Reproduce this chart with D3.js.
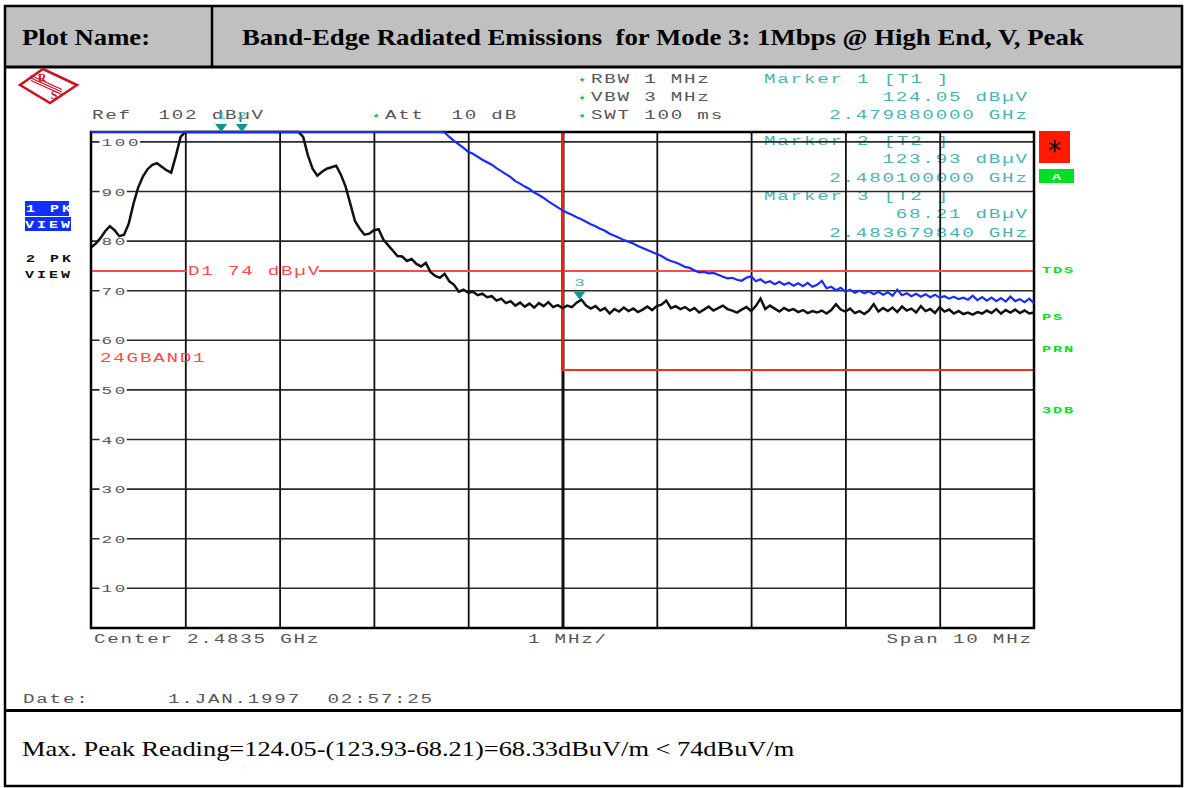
<!DOCTYPE html>
<html><head><meta charset="utf-8">
<script src="https://cdn.jsdelivr.net/npm/d3@7"></script>
<style>body{margin:0;background:#fff}svg{display:block}text{white-space:pre}</style>
</head><body>
<svg id="c" width="1184" height="788"></svg>
<script>
// ---------- DATA ----------
const freqStartGHz = 2.4785;
const freqStopGHz = 2.4885;
const freqStepGHz = 0.00005;
const xGridGHz = [2.4795,2.4805,2.4815,2.4825,2.4835,2.4845,2.4855,2.4865,2.4875];
const yTickValues = [100,90,80,70,60,50,40,30,20,10];
const yTickLabels = ["100","90","80","70","60","50","40","30","20","10"];
const refLevel = 102, bottomLevel = 2;
const displayLineDb = 74;
const limitLineDb = 54, limitStartGHz = 2.4835;

// Trace 1 (blue, 1 PK max hold)
const trace1 = [
106.0,106.4,106.9,107.3,107.8,108.4,109.0,109.7,110.4,111.2,
112.0,112.9,113.8,114.7,115.6,116.5,117.4,118.3,119.2,120.0,
120.8,121.5,122.1,122.7,123.2,123.6,123.8,124.0,124.05,124.0,
123.9,123.7,123.4,123.0,122.5,121.9,121.2,120.5,119.7,118.9,
118.0,117.2,116.4,115.6,114.8,114.0,113.3,112.6,111.9,111.3,
110.7,110.1,109.5,109.0,108.5,108.0,107.5,107.1,106.7,106.3,
105.9,105.5,105.2,104.9,104.6,104.3,104.0,103.7,103.4,103.2,
103.0,102.8,102.6,102.4,102.2,101.9,101.0,100.2,99.5,98.8,
98.0,97.6,97.0,96.4,95.9,95.4,94.7,94.1,93.5,92.9,
92.1,91.6,91.0,90.5,89.8,89.3,88.7,88.0,87.4,86.8,
86.2,85.7,85.3,84.8,84.4,83.9,83.4,83.0,82.5,82.1,
81.5,81.1,80.7,80.2,79.9,79.5,79.0,78.6,78.2,77.8,
77.4,77.0,76.4,76.0,75.7,75.3,74.8,74.6,74.1,73.7,
73.8,73.5,73.6,73.2,72.8,72.5,72.6,72.2,72.0,72.6,
72.9,71.9,72.3,71.6,71.9,71.3,71.8,71.2,71.6,71.0,
71.5,70.9,71.6,70.8,71.2,72.0,70.5,70.8,70.1,70.6,
69.8,70.2,69.6,70.0,69.5,69.9,69.3,69.8,69.2,69.7,
69.0,70.2,69.1,69.5,68.9,69.4,68.8,69.3,68.7,69.2,
68.6,68.9,68.4,68.8,68.3,68.6,68.2,69.0,68.1,68.7,
68.0,68.6,67.9,68.5,67.8,68.8,67.9,68.3,67.7,68.4,
67.5];

// Trace 2 (black, 2 PK view)
const trace2 = [
78.7,79.5,80.6,82.0,83.0,82.2,81.0,81.3,83.5,87.5,
90.8,93.0,94.5,95.4,95.7,95.0,94.3,93.8,97.2,101.0,
104.5,108,112,116,119,121,122.5,123.5,124.0,123.9,
124.0,123.9,123.93,123.5,122.8,121.5,119.5,117,114,111,
108,105.5,103.5,102.8,102.2,101.0,97.3,94.6,93.2,94.0,
94.6,94.9,95.2,93.4,91.0,87.5,84.0,82.5,81.3,81.5,
82.2,82.4,80.3,79.2,78.1,77.0,76.9,76.0,76.4,75.4,
74.9,75.6,73.8,73.0,72.6,73.4,71.9,71.2,69.8,70.2,
69.6,69.8,69.1,69.4,68.7,68.9,68.0,68.4,67.5,67.9,
67.0,67.6,66.8,67.4,66.6,67.5,66.9,67.7,66.7,67.1,
66.5,67.0,66.7,67.6,68.21,67.0,66.4,66.9,66.0,66.5,
65.4,66.3,65.8,66.6,65.9,66.4,65.7,66.2,66.8,66.1,
66.9,67.2,68.0,66.5,66.9,66.3,66.7,66.0,66.5,65.6,
66.2,66.8,66.0,66.5,67.0,66.3,66.0,65.6,66.2,66.7,
65.9,66.9,68.4,66.3,67.0,66.4,65.8,66.5,66.0,66.3,
65.7,66.1,65.5,65.9,65.6,66.0,65.4,66.1,67.3,66.2,
65.8,66.4,65.5,65.9,65.3,66.0,67.3,65.8,66.5,65.9,
66.6,65.7,66.8,66.0,66.4,65.6,66.9,65.9,66.3,65.5,
66.7,65.8,66.2,65.4,65.9,65.3,65.6,65.2,65.7,65.4,
66.0,65.5,66.3,65.4,66.1,65.6,66.2,65.5,66.0,65.4,
65.6];

const markerIds = ["1","2","3"];
const markerTraces = ["T1","T2","T2"];
const markerFreqGHz = [2.47988, 2.4801, 2.48367984];
const markerLevels = [124.05, 123.93, 68.21];
const markerLevelText = ["124.05 dBµV","123.93 dBµV","68.21 dBµV"];
const markerFreqText = ["2.479880000 GHz","2.480100000 GHz","2.483679840 GHz"];

const settingsLines = ["RBW 1 MHz","VBW 3 MHz","SWT 100 ms"];
const sideLabels = ["TDS","PS","PRN","3DB"];

// ---------- DRAW ----------
const svg = d3.select("#c");

const x = d3.scaleLinear().domain([freqStartGHz, freqStopGHz]).range([91, 1034]);
const y = d3.scaleLinear().domain([bottomLevel, refLevel]).range([628, 132]).clamp(true);

function mono(g, px, py, str, opt = {}) {
  const size = opt.size || 12, pitch = opt.pitch || 13.3, sx = opt.sx || 1.6;
  const adv = size * 0.6 * sx;
  const ls = pitch / sx - size * 0.6;
  let x0 = px;
  if (opt.anchor === "end") x0 = px - ((str.length - 1) * pitch + adv);
  if (opt.anchor === "middle") x0 = px - ((str.length - 1) * pitch + adv) / 2;
  return g.append("text")
    .attr("transform", `translate(${x0},${py}) scale(${sx},1)`)
    .attr("xml:space", "preserve")
    .attr("font-family", "'Liberation Mono','Courier New',monospace")
    .attr("font-size", size)
    .attr("letter-spacing", ls)
    .attr("font-weight", opt.weight || "normal")
    .attr("fill", opt.fill || "#555")
    .text(str);
}

// Table structure
svg.append("rect").attr("x", 5).attr("y", 6).attr("width", 1177).attr("height", 61).attr("fill", "#c0c0c0");
svg.append("rect").attr("x", 5).attr("y", 6).attr("width", 1177).attr("height", 780)
  .attr("fill", "none").attr("stroke", "#000").attr("stroke-width", 2.5);
svg.append("line").attr("x1", 5).attr("x2", 1182).attr("y1", 67).attr("y2", 67).attr("stroke", "#000").attr("stroke-width", 3);
svg.append("line").attr("x1", 212).attr("x2", 212).attr("y1", 6).attr("y2", 67).attr("stroke", "#000").attr("stroke-width", 2.5);
svg.append("line").attr("x1", 5).attr("x2", 1182).attr("y1", 710.5).attr("y2", 710.5).attr("stroke", "#000").attr("stroke-width", 3);

const serif = "'Liberation Serif','Times New Roman',serif";
svg.append("text").attr("transform", "translate(22,45) scale(1.16,1)").attr("font-family", serif)
  .attr("font-weight", "bold").attr("font-size", 23).text("Plot Name:");
svg.append("text").attr("transform", "translate(242,45) scale(1.165,1)").attr("font-family", serif)
  .attr("font-weight", "bold").attr("font-size", 23).attr("xml:space", "preserve")
  .text("Band-Edge Radiated Emissions  for Mode 3: 1Mbps @ High End, V, Peak");
svg.append("text").attr("transform", "translate(22,756) scale(1.2,1)").attr("font-family", serif)
  .attr("font-size", 22).text("Max. Peak Reading=124.05-(123.93-68.21)=68.33dBuV/m < 74dBuV/m");

// R&S logo
const red = "#d01020";
const logo = svg.append("g");
logo.append("path").attr("d", "M20,85 L43,69 L77,85 L50,103 Z").attr("fill", "#fff").attr("stroke", red).attr("stroke-width", 2.5);
[-2.5, 0, 2.5].forEach(d => logo.append("line").attr("x1", 31).attr("y1", 78 + d).attr("x2", 62).attr("y2", 92 + d)
  .attr("stroke", red).attr("stroke-width", 1.3));
logo.append("text").attr("x", 42).attr("y", 82).attr("font-family", serif).attr("font-weight", "bold")
  .attr("font-size", 12).attr("fill", red).attr("text-anchor", "middle").text("R");
logo.append("text").attr("x", 54).attr("y", 99).attr("font-family", serif).attr("font-weight", "bold")
  .attr("font-size", 12).attr("fill", red).attr("text-anchor", "middle").text("S");

// Top instrument texts
const txt = svg.append("g");
function star(px, py) {
  txt.append("text").attr("x", px).attr("y", py).attr("font-family", "'DejaVu Sans',sans-serif")
    .attr("font-size", 7).attr("fill", "#00c020").text("★");
}
const rowY = [82.5, 100.5, 118.5];
mono(txt, 92, rowY[2], "Ref  102 dBµV");
star(373, rowY[2] - 1); mono(txt, 385, rowY[2], "Att  10 dB");
settingsLines.forEach((s, i) => { star(579, rowY[i] - 1); mono(txt, 591, rowY[i], s); });

const teal = "#48b4b4";
const mkY = [[82.5, 100.5, 118.5], [145, 163.3, 181.7], [200, 218, 236.5]];
markerIds.forEach((m, i) => {
  mono(txt, 764, mkY[i][0], `Marker ${m} [${markerTraces[i]} ]`, { fill: teal });
  mono(txt, 1027, mkY[i][1], markerLevelText[i], { fill: teal, anchor: "end" });
  mono(txt, 1027, mkY[i][2], markerFreqText[i], { fill: teal, anchor: "end" });
});

// Plot grid
const plot = svg.append("g");
yTickValues.forEach(v => {
  plot.append("line").attr("x1", 91).attr("x2", 1034).attr("y1", y(v)).attr("y2", y(v))
    .attr("stroke", "#2a2a2a").attr("stroke-width", 1.6);
});
const gx = plot.append("g").attr("transform", "translate(0,628)")
  .call(d3.axisBottom(x).tickValues(xGridGHz).tickSize(-496).tickFormat(""));
gx.select(".domain").remove();
gx.selectAll(".tick line").attr("stroke", "#111").attr("stroke-width", d => d === 2.4835 ? 3 : 1.8);

// y tick labels with white backgrounds
yTickValues.forEach((v, i) => {
  const lab = yTickLabels[i];
  const w = (lab.length - 1) * 13.3 + 10.5;
  plot.append("rect").attr("x", 99.5).attr("y", y(v) - 6).attr("width", w + 3.5).attr("height", 12).attr("fill", "#fff");
  mono(plot, 101.5, y(v) + 4, lab, { size: 11, fill: "#555" });
});

// display line D1
const dY = y(displayLineDb);
plot.append("line").attr("x1", 91).attr("x2", 186).attr("y1", dY).attr("y2", dY).attr("stroke", "#ff4a4a").attr("stroke-width", 2);
plot.append("line").attr("x1", 319).attr("x2", 1034).attr("y1", dY).attr("y2", dY).attr("stroke", "#ff4a4a").attr("stroke-width", 2);
mono(plot, 188, dY + 4, "D1 74 dBµV", { fill: "#ff4a4a" });

// limit line 24GBAND1
const lx = x(limitStartGHz), lY = y(limitLineDb);
plot.append("path").attr("d", `M${lx},132 L${lx},${lY} L1034,${lY}`).attr("fill", "none")
  .attr("stroke", "#ff2a1a").attr("stroke-width", 2);
plot.append("line").attr("x1", lx).attr("x2", lx).attr("y1", 132).attr("y2", lY).attr("stroke", "#ff1a00").attr("stroke-width", 3);
mono(plot, 100, 362, "24GBAND1", { fill: "#ff4a4a" });

// traces
const freqs = trace2.map((_, i) => freqStartGHz + i * freqStepGHz);
const line = d3.line().x((d, i) => x(freqs[i])).y(d => y(d));
plot.append("path").datum(trace2).attr("d", line).attr("fill", "none").attr("stroke", "#111").attr("stroke-width", 2.5);

// frame
plot.append("rect").attr("x", 91).attr("y", 132).attr("width", 943).attr("height", 496)
  .attr("fill", "none").attr("stroke", "#000").attr("stroke-width", 2.5);
plot.append("path").datum(trace1).attr("d", line).attr("fill", "none").attr("stroke", "#1a2cff").attr("stroke-width", 2.2);

// markers
const triColor = "#129494";
markerIds.forEach((m, i) => {
  const mx = x(markerFreqGHz[i]);
  const my = Math.max(y(markerLevels[i]), 132);
  plot.append("path").attr("d", `M${mx - 6},${my - 8} L${mx + 6},${my - 8} L${mx},${my} Z`).attr("fill", triColor);
  if (i === 2) mono(plot, mx, my - 14, m, { fill: teal, anchor: "middle", size: 11 });
  else mono(plot, mx, 118.5, m, { fill: teal, anchor: "middle", size: 11 });
});

// left side view labels
svg.append("rect").attr("x", 25).attr("y", 201).attr("width", 44).attr("height", 15).attr("fill", "#1030ff");
svg.append("rect").attr("x", 25).attr("y", 217).attr("width", 46).attr("height", 14).attr("fill", "#1030ff");
mono(svg, 26, 212, "1 PK", { size: 10, pitch: 12, sx: 1.5, fill: "#fff", weight: "bold" });
mono(svg, 25, 228, "VIEW", { size: 10, pitch: 12, sx: 1.5, fill: "#fff", weight: "bold" });
mono(svg, 26, 262, "2 PK", { size: 10, pitch: 12, sx: 1.5, fill: "#111", weight: "bold" });
mono(svg, 25, 278, "VIEW", { size: 10, pitch: 12, sx: 1.5, fill: "#111", weight: "bold" });

// right side
svg.append("rect").attr("x", 1039).attr("y", 131).attr("width", 31).attr("height", 32).attr("fill", "#ff1a00");
svg.append("text").attr("x", 1054.5).attr("y", 160).attr("text-anchor", "middle").attr("font-family", "'DejaVu Sans',sans-serif")
  .attr("font-size", 26).attr("fill", "#000").text("*");
svg.append("rect").attr("x", 1039).attr("y", 169).attr("width", 35).attr("height", 14).attr("fill", "#00e020");
mono(svg, 1056.5, 180, "A", { size: 9, pitch: 11, sx: 1.7, fill: "#fff", weight: "bold", anchor: "middle" });
const sideY = [272.5, 319.5, 352, 413];
sideLabels.forEach((s, i) => mono(svg, 1042, sideY[i], s, { size: 9, pitch: 11, sx: 1.7, fill: "#00e020", weight: "bold" }));

// bottom texts
mono(svg, 94, 643, "Center 2.4835 GHz");
mono(svg, 528, 643, "1 MHz/");
mono(svg, 1031, 643, "Span 10 MHz", { anchor: "end" });
mono(svg, 23, 703, "Date:");
mono(svg, 168, 703, "1.JAN.1997  02:57:25");
</script>
</body></html>
